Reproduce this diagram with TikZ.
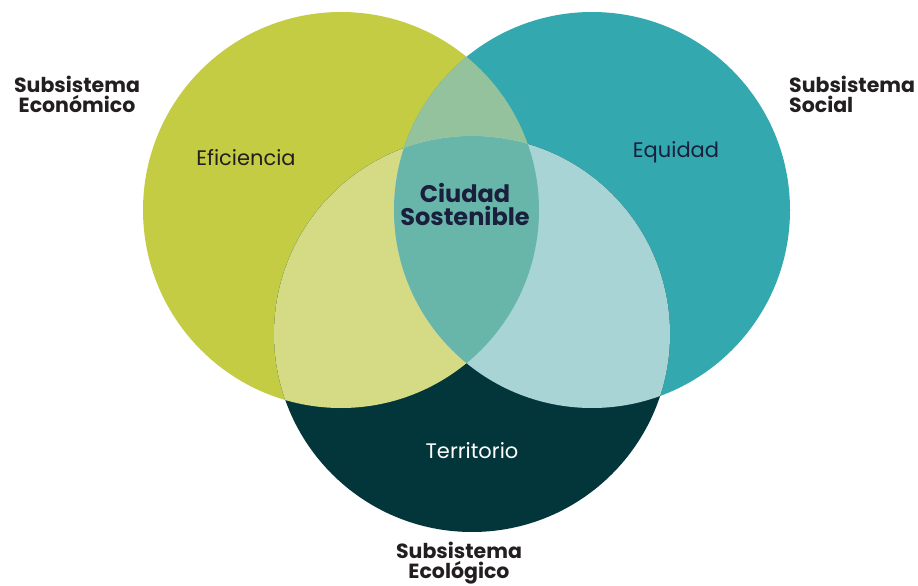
\documentclass[tikz,border=0pt]{standalone}
\usepackage{fontspec}
\setmainfont{Poppins}
\definecolor{cL}{HTML}{C3CC42}
\definecolor{cR}{HTML}{33A8AF}
\definecolor{cB}{HTML}{03363A}
\definecolor{cLR}{HTML}{94C29C}
\definecolor{cLB}{HTML}{D5DA85}
\definecolor{cRB}{HTML}{A8D4D5}
\definecolor{cC}{HTML}{68B5AA}
\definecolor{navy}{HTML}{1A1F3D}
\definecolor{txt}{HTML}{231F20}
\tikzset{
  sublabel/.style={font=\fontsize{20.5}{20}\selectfont\bfseries, text=txt, inner sep=0pt},
  inlabel/.style={font=\fontsize{21}{22}\selectfont, inner sep=0pt},
}
\begin{document}
\begin{tikzpicture}[x=1pt,y=-1pt]
\useasboundingbox (0,0) rectangle (918,586);
\def\rr{198}
\coordinate (cl) at (341,210);
\coordinate (cr) at (592,210);
\coordinate (cb) at (472,334);
\fill[cL] (cl) circle (\rr);
\fill[cR] (cr) circle (\rr);
\fill[cB] (cb) circle (\rr);
\begin{scope}
  \clip (cl) circle (\rr);
  \fill[cLR] (cr) circle (\rr);
  \fill[cLB] (cb) circle (\rr);
\end{scope}
\begin{scope}
  \clip (cr) circle (\rr);
  \fill[cRB] (cb) circle (\rr);
\end{scope}
\begin{scope}
  \clip (cl) circle (\rr);
  \clip (cr) circle (\rr);
  \fill[cC] (cb) circle (\rr);
\end{scope}
\node[inlabel, text=txt] (ef) at (246,158) {Eficiencia};
\node[inlabel, text=navy] (eq) at (676,152) {Equidad};
\node[inlabel, text=white] (te) at (472,451) {Territorio};
\node[font=\fontsize{24}{23}\selectfont\bfseries, text=navy, align=center, inner sep=0pt] (cs) at (465,204) {Ciudad\\Sostenible};
\node[sublabel, align=center] (se) at (77,94) {Subsistema\\Económico};
\node[sublabel, align=left, anchor=west] (ss) at (789,94) {Subsistema\\Social};
\node[sublabel, align=center] (sg) at (459,563) {Subsistema\\Ecológico};
\end{tikzpicture}
\end{document}
